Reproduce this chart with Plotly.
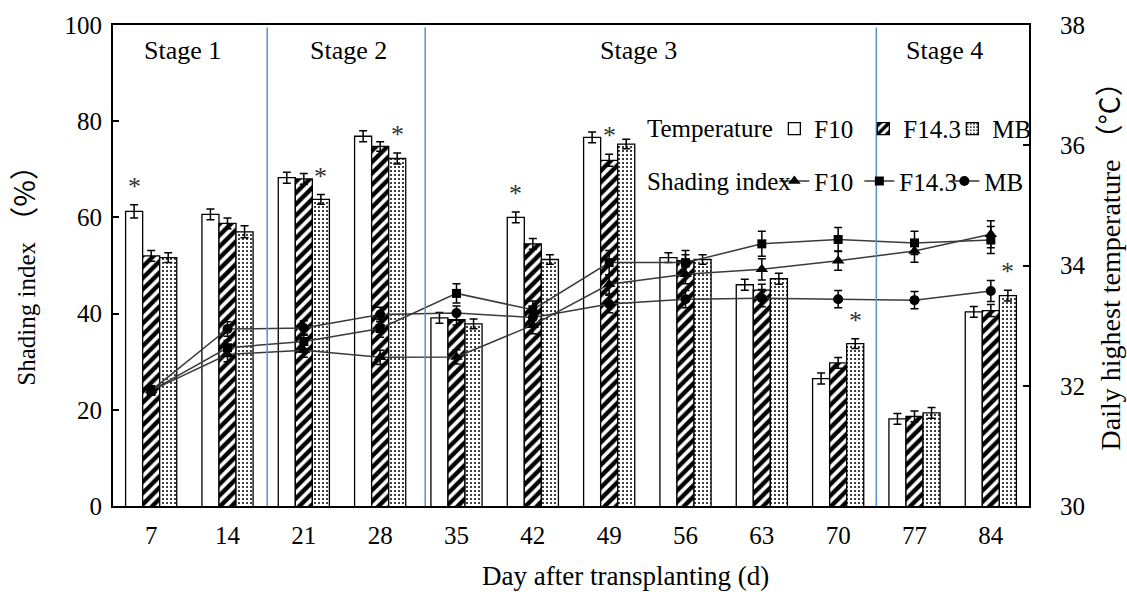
import plotly.graph_objects as go

days = [7, 14, 21, 28, 35, 42, 49, 56, 63, 70, 77, 84]
day_labels = [str(d) for d in days]
xpos = list(range(len(days)))

# Daily highest temperature (°C), bars
temp_f10 = [34.90, 34.85, 35.46, 36.15, 33.13, 34.80, 36.13, 34.13, 33.68, 32.12, 31.45, 33.23]
temp_f143 = [34.16, 34.70, 35.44, 35.98, 33.10, 34.36, 35.75, 34.08, 33.59, 32.38, 31.49, 33.25]
temp_mb = [34.13, 34.56, 35.10, 35.78, 33.03, 34.10, 36.02, 34.10, 33.78, 32.70, 31.55, 33.50]
temp_f10_err = [0.11, 0.09, 0.09, 0.09, 0.09, 0.09, 0.09, 0.08, 0.09, 0.09, 0.09, 0.09]
temp_f143_err = [0.09, 0.09, 0.09, 0.08, 0.09, 0.09, 0.10, 0.10, 0.10, 0.09, 0.09, 0.10]
temp_mb_err = [0.08, 0.10, 0.08, 0.09, 0.08, 0.08, 0.08, 0.08, 0.09, 0.08, 0.09, 0.09]

# Shading index (%), lines
shade_f10 = [24.0, 31.5, 32.4, 30.9, 31.0, 37.6, 46.1, 48.2, 49.2, 51.0, 53.0, 56.5]
shade_f143 = [24.0, 32.9, 34.2, 36.9, 44.2, 40.8, 50.6, 50.6, 54.5, 55.4, 54.7, 55.3]
shade_mb = [24.0, 36.8, 37.0, 39.8, 40.1, 39.2, 42.0, 43.0, 43.2, 43.0, 42.8, 44.7]
shade_f10_err = [1.0, 1.5, 1.5, 1.5, 1.5, 1.8, 2.0, 2.0, 2.2, 2.0, 2.3, 2.8]
shade_f143_err = [1.0, 1.5, 1.5, 1.8, 2.0, 1.8, 2.5, 2.5, 2.6, 2.5, 2.4, 2.8]
shade_mb_err = [1.0, 1.5, 1.5, 1.5, 1.5, 1.5, 1.8, 1.8, 1.8, 1.8, 1.8, 2.2]

# significance marks (day, series)
sig_marks = [(7, "F10"), (21, "MB"), (28, "MB"), (42, "F10"), (49, "F14.3"), (70, "MB"), (84, "MB")]

stage_names = ["Stage 1", "Stage 2", "Stage 3", "Stage 4"]
stage_bounds = [1.52, 3.59, 9.5]

FONT = "Liberation Serif, Times New Roman, serif"
CJK = "Noto Sans CJK SC"

fig = go.Figure()

BARGAP = 0.33
bar_w = (1 - BARGAP) / 3
bar_styles = {
    "F10": dict(shape="", fgcolor="black", bgcolor="white"),
    "F14.3": dict(shape="/", fgcolor="black", bgcolor="white", fgopacity=1, size=8, solidity=0.55),
    "MB": dict(shape=".", fgcolor="black", bgcolor="white", fgopacity=1, size=4, solidity=0.2),
}
bar_data = {"F10": (temp_f10, temp_f10_err), "F14.3": (temp_f143, temp_f143_err), "MB": (temp_mb, temp_mb_err)}

for name in ["F10", "F14.3", "MB"]:
    vals, errs = bar_data[name]
    fig.add_trace(go.Bar(
        x=xpos, y=vals, name=name, yaxis="y", legend="legend",
        marker=dict(color="white", line=dict(color="black", width=1.3), pattern=bar_styles[name]),
        error_y=dict(type="data", array=errs, color="black", thickness=1.5, width=4),
    ))

line_data = {"F10": (shade_f10, shade_f10_err, "triangle-up", 11),
             "F14.3": (shade_f143, shade_f143_err, "square", 9),
             "MB": (shade_mb, shade_mb_err, "circle", 10)}
for name in ["F10", "F14.3", "MB"]:
    vals, errs, sym, sz = line_data[name]
    fig.add_trace(go.Scatter(
        x=xpos, y=vals, name=name, yaxis="y2", legend="legend2",
        mode="lines+markers",
        line=dict(color="#3a3a3a", width=1.5),
        marker=dict(symbol=sym, size=sz, color="black"),
        error_y=dict(type="data", array=errs, color="black", thickness=1.5, width=4),
    ))

# Stage separators
for b in stage_bounds:
    fig.add_shape(type="line", xref="x", yref="paper", x0=b, x1=b, y0=0, y1=0.995,
                  line=dict(color="#5b8fd6", width=1.5), layer="above")

annotations = []
stage_pos = [0.0764, 0.2566, 0.574, 0.908]
for name, px in zip(stage_names, stage_pos):
    annotations.append(dict(text=name, xref="paper", yref="paper", x=px, y=0.946,
                            xanchor="center", yanchor="middle", showarrow=False,
                            font=dict(family=FONT, size=26, color="black")))

offsets = {"F10": -bar_w, "F14.3": 0.0, "MB": bar_w}
for d, s in sig_marks:
    i = days.index(d)
    vals, errs = bar_data[s]
    annotations.append(dict(text="*", xref="x", yref="y", x=xpos[i] + offsets[s], y=vals[i] + errs[i],
                            yshift=2, xanchor="center", yanchor="bottom",
                            showarrow=False, font=dict(family=FONT, size=26, color="#333333")))

# legend group titles
annotations.append(dict(text="Temperature", xref="paper", yref="paper", x=0.581, y=0.784,
                        xanchor="left", yanchor="middle", showarrow=False,
                        font=dict(family=FONT, size=25, color="black")))
annotations.append(dict(text="Shading index", xref="paper", yref="paper", x=0.581, y=0.675,
                        xanchor="left", yanchor="middle", showarrow=False,
                        font=dict(family=FONT, size=25, color="black")))

annotations.append(dict(text="Day after transplanting (d)", xref="paper", yref="paper",
                        x=0.56, y=-0.146, xanchor="center", yanchor="middle", showarrow=False,
                        font=dict(family=FONT, size=27, color="black")))
annotations.append(dict(text="Shading index <span style='font-family:%s;font-size:29px'>（%%）</span>" % CJK,
                        xref="paper", yref="paper",
                        x=-0.0993, y=0.245, xanchor="center", yanchor="bottom", textangle=-90,
                        showarrow=False, font=dict(family=FONT, size=25, color="black")))
annotations.append(dict(text="Daily highest temperature <span style='font-family:%s'>（°C）</span>" % CJK,
                        xref="paper", yref="paper",
                        x=1.086, y=0.111, xanchor="center", yanchor="bottom", textangle=-90,
                        showarrow=False, font=dict(family=FONT, size=28, color="black")))

fig.update_layout(
    width=1127, height=592,
    margin=dict(l=113, r=98, t=20, b=86),
    plot_bgcolor="white", paper_bgcolor="white",
    font=dict(family=FONT, size=25, color="black"),
    barmode="group", bargap=BARGAP, bargroupgap=0,
    annotations=annotations,
    xaxis=dict(range=[-0.5, 11.5], tickvals=xpos, ticktext=day_labels, showline=True,
               linecolor="black", linewidth=2, mirror=True, ticks="", showgrid=False,
               zeroline=False, ticklabelstandoff=6, tickfont=dict(family=FONT, size=25)),
    yaxis=dict(side="right", range=[30, 38], tickvals=[30, 32, 34, 36, 38], showline=True,
               linecolor="black", linewidth=2, ticks="inside", ticklen=6, tickwidth=2,
               tickcolor="black", showgrid=False, zeroline=False, ticklabelstandoff=24,
               tickfont=dict(family=FONT, size=25)),
    yaxis2=dict(overlaying="y", side="left", range=[0, 100], tickvals=[0, 20, 40, 60, 80, 100],
                showline=True, linecolor="black", linewidth=2, ticks="inside", ticklen=6,
                tickwidth=2, tickcolor="black", showgrid=False, zeroline=False,
                ticklabelstandoff=4, tickfont=dict(family=FONT, size=25)),
    legend=dict(orientation="h", x=0.722, y=0.784, xanchor="left", yanchor="middle",
                bgcolor="rgba(0,0,0,0)", font=dict(family=FONT, size=25), itemwidth=30,
                entrywidth=44, entrywidthmode="pixels"),
    legend2=dict(orientation="h", x=0.722, y=0.675, xanchor="left", yanchor="middle",
                 bgcolor="rgba(0,0,0,0)", font=dict(family=FONT, size=25), itemwidth=30,
                 entrywidth=40, entrywidthmode="pixels"),
)

fig.write_html("out.html")
